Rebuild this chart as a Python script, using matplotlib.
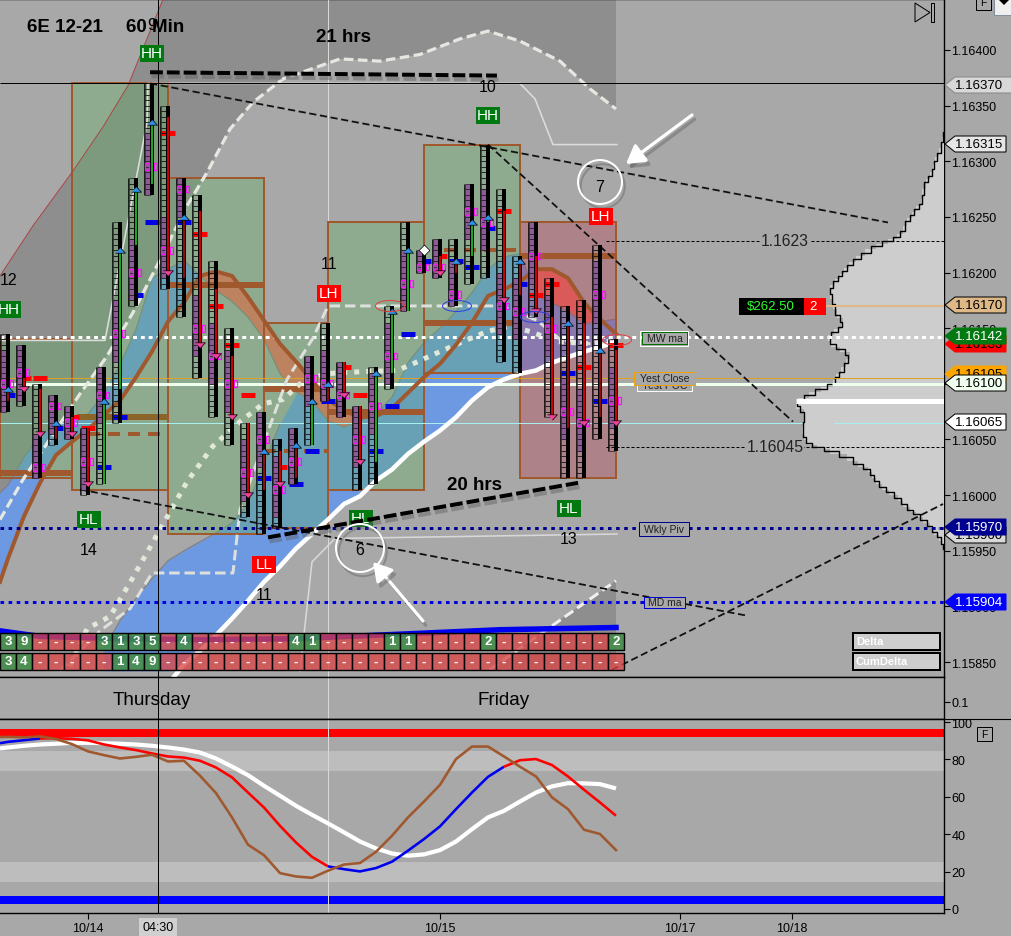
import numpy as np
import matplotlib
matplotlib.use('Agg')
import matplotlib.pyplot as plt
from matplotlib.patches import Rectangle, Polygon, Ellipse, Circle
from matplotlib.collections import PatchCollection
import matplotlib.patheffects as pe

plt.rcParams['font.family'] = ['Liberation Sans', 'DejaVu Sans']

# ---------- DATA (prices in 1e-5 units, x in bar index) ----------
highs = [116145,116135,116100,116090,116080,116060,116115,116245,116285,116370,116350,116285,116270,116210,116150,116065,116075,116050,116060,116125,116155,116120,116080,116115,116170,116245,116220,116230,116230,116280,116315,116275,116215,116245,116195,116170,116175,116225,116140]
lows = [116075,116080,116015,116045,116050,116000,116010,116065,116170,116270,116185,116160,116105,116070,116045,115980,115965,115970,116010,116045,116085,116070,116005,116010,116095,116165,116200,116195,116170,116190,116195,116120,116110,116160,116070,116015,116015,116050,116040]
opens = [116085,116105,116095,116050,116070,116060,116010,116095,116225,116280,116340,116195,116255,116185,116125,116065,116005,116040,116015,116045,116085,116120,116080,116030,116110,116165,116220,116215,116200,116215,116245,116255,116180,116215,116160,116060,116155,116070,116130]
closes = [116095,116095,116055,116065,116055,116010,116085,116220,116275,116335,116200,116250,116135,116125,116070,116000,116040,116010,116045,116085,116100,116090,116030,116110,116165,116220,116220,116200,116210,116245,116250,116175,116210,116165,116070,116155,116065,116130,116065]
green_bodies = [6,7,8,9,19,23,24,25,29,30]
poc_price = [116090,116105,116105,116060,116070,116060,116025,116070,116180,116245,116325,116245,116235,116170,116135,116090,116015,116025,116010,116040,116085,116115,116090,116040,116080,116145,116210,116215,116210,116205,116240,116255,116190,116180,116190,116110,116115,116085,116135]
poc_blue = [0,3,6,7,8,9,11,16,18,19,20,23,24,25,26,28,29,30,32,35,37]
mag_price = [116100,116110,116025,116080,116065,116030,116090,116145,116200,116295,116220,116275,116150,116125,116100,116020,116050,116005,116030,116105,116100,116090,116050,116080,116125,116190,116205,116205,116180,116255,116245,116170,116165,116215,116150,116075,116065,116180,116085]
delta_row = ['3','9','-','-','-','-','3','1','3','5','-','4','-','-','-','-','-','-','4','1','-','-','-','-','1','1','-','-','-','-','2','-','-','-','-','-','-','-','2']
cum_row = ['3','4','-','-','-','-','-','1','4','9']+['-']*29

box_x0 = [-0.5,4,10,16,20,26,32]
box_x1 = [4,10,16,20,26,32,38]
box_top = [116140,116370,116285,116155,116245,116315,116245]
box_bot = [116015,116005,115965,115970,116005,116110,116015]

curve_x = [-0.5]+list(range(39))
brown_ma = [115922,115943,115981,116011,116036,116048,116059,116072,116085,116106,116129,116156,116173,116197,116201,116197,116178,116157,116136,116120,116103,116086,116076,116070,116071,116078,116092,116106,116118,116135,116155,116179,116185,116192,116203,116203,116195,116173,116158,116145]
cloud_top = [116002,116009,116034,116053,116064,116068,116073,116091,116117,116149,116195,116203,116211,116197,116184,116174,116160,116140,116109,116093,116084,116067,116061,116067,116073,116088,116119,116137,116150,116165,116182,116203,116214,116217,116179,116173,116165,116154,116156,116158]
ribbon_top = [115862,115887,115907,115925,115941,115950,115958,115966,115975,115992,116028,116064,116091,116100,116085,116076,116070,116073,116088,116119,116137,116150,116165,116182,116203,116214,116217,116179,116173,116165,116154,116156,116158]
slow_ma = [115763,115776,115794,115812,115830,115848,115860,115874,115889,115905,115922,115936,115952,115965,115978,115992,115999,116013,116023,116037,116048,116058,116070,116085,116097,116104,116109,116112,116119,116124,116129,116133,116138]

red_x = [-0.5,1.56,4,5.94,7.5,9.7]
red_y = [116197,116242,116290,116331,116368,116446]
dash_x = [-0.5,0.94,4.5,6.19,7.81,9.31,11.19,12.44,13.88,15.31,17.19,20.75,23.25,25.75,28.25,30,32,34.5,36.38,38]
dash_y = [115978,116014,116091,116125,116164,116206,116260,116290,116329,116353,116374,116392,116390,116396,116410,116417,116408,116390,116365,116347]
low_dash_x = [3.25,5.75,7.63,9,14.06,14.5,16.06,17.44,19.06,20,30.56,31.38,33.06,34.5,36.38,38.06]
low_dash_y = [115842,115878,115898,115930,115930,115987,116050,116104,116141,116170,116170,116167,116157,116140,116136,116136]
dots_x = [3.88,4.94,6.38,7.81,9.5,11.19,12.81,14.5,15.94,17.19,18.25,19.81,22.19,24.31,25.31,26.38,28.44,29.94,31.38,32.63,34.31,36.38,38.06]
dots_y = [115846,115880,115891,115926,115969,116012,116044,116066,116082,116086,116100,116109,116111,116112,116118,116125,116138,116147,116152,116147,116138,116136,116139]
stair_top_x = [-0.5,6.06,8.69,8.75,32,32.94,34.06,38.06]
stair_top_y = [116139,116139,116335,116370,116370,116356,116315,116315]
stair_bot_x = [18.25,19,20.44,38.06]
stair_bot_y = [115842,115940,115961,115965]
wedge_x = [30.1,38,38]
wedge_y = [115844,115923,115844]
wedge_dash_x = [30.1,38]
wedge_dash_y = [115843,115923]
blue_line_x = [-0.5,2,7,12,18,24.5,30.75,38]
blue_line_y = [115878,115873,115871,115870,115871,115875,115879,115881]

thin_trends = [(8.88,116370,55,116245),(30,116315,49.06,116066),(4.5,116005,46.06,115892),(37.75,115843,58.44,115992)]
thick_trends = [(8.88,116380,30.56,116377),(16.25,115962,35.63,116011)]

profile_price = [116326,116317,116307,116300,116293,116287,116281,116270,116262,116257,116252,116246,116237,116232,116228,116224,116218,116212,116207,116201,116197,116192,116186,116181,116172,116162,116156,116151,116147,116141,116136,116131,116126,116119,116111,116106,116100,116095,116090,116085,116080,116075,116066,116058,116052,116047,116043,116040,116034,116028,116023,116018,116013,116007,116003,115997,115992,115987,115983,115978,115972,115967,115962,115956,115952]
profile_vol = [0,2,5,9,11,14,18,22,23,28,32,37,41,47,56,68,79,88,95,100,104,109,114,114,111,107,101,103,110,116,113,104,94,98,103,108,111,123,135,146,148,140,140,142,140,137,127,114,97,86,76,72,68,62,55,46,41,34,28,21,14,10,5,2,0]

stoch_k = [92.0,92.1,91.8,92.3,90.9,88.2,84.3,82.3,80.5,81.4,82.5,78.9,79.3,71.3,62,49,34.4,28.8,19.2,17.4,16.7,20.5,23.8,24.6,30.6,39.2,49,57.5,66.4,80.2,86.9,86.9,81.6,76.1,70.9,59.7,53.4,42.4,40.1,31.5]
stoch_d = [88.7,89.4,90.3,91.2,91.4,91,90.2,88,86.4,85,83.2,81.6,81,79.3,75.7,70.4,62.3,54.3,44.5,35.6,27.9,22.8,21.3,20.1,21.9,25.3,31.2,37.4,44.2,53.4,62.3,70.7,76.1,79.6,80.2,77,70.9,63.8,57,49.9]
stoch_slow = [85.9,86.4,87.3,88,88.4,88.9,88.9,88.7,88.4,88,87.3,86.4,85.3,83.7,80.5,76.2,71.6,65.9,60.6,55.2,50.4,45.8,41,36.1,32.4,29.7,28.5,29.2,31.5,36.1,42.7,49,52.5,57.5,62.3,65.6,67.3,67.2,66.8,64.5]

date_ticks = [5,27,42,49]
date_labels = ['10/14','10/15','10/17','10/18']
price_ticks = [1.1585,1.1590,1.1595,1.1600,1.1605,1.1610,1.1615,1.1620,1.1625,1.1630,1.1635,1.1640]
stoch_ticks = [0,20,40,60,80,100]

# ---------- helpers ----------
W, H = 1012, 937
BG = '#a8a8a8'
BROWN = '#a0582f'
px = 0.72   # points per pixel at dpi 100
fig = plt.figure(figsize=(W/100, H/100), dpi=100, facecolor=BG)
def axes_at(top, bot, right=944):
    return fig.add_axes([0, 1-bot/H, right/W, (bot-top)/H], facecolor=BG)

ax = axes_at(0, 677.5)
mid = axes_at(677.5, 719.5)
low = axes_at(719.5, 914)
XL = (-0.5, 58.5)
for a in (ax, mid, low):
    a.set_xlim(*XL)
    a.spines['left'].set_visible(False)
    for s in ('top','bottom','right'):
        a.spines[s].set_linewidth(1)
    a.yaxis.tick_right()
    a.tick_params(axis='y', length=6*px, width=0.8, labelsize=9, pad=1)
    a.set_xticks([])
ax.set_ylim(1.164-626.5/111273*1, 1.164+51/111273)
s5 = lambda v: np.asarray(v, dtype=float)/1e5
bars = np.arange(39)
cx_arr = np.asarray(curve_x, dtype=float)

# overlay in pixels, created early so its transform can be used for marks under the trend lines
ov = fig.add_axes([0,0,1,1], facecolor='none', zorder=20)
ov.set_xlim(0, W); ov.set_ylim(H, 0); ov.axis('off')

# ---------- main panel ----------
ax.set_yticks(price_ticks)
ax.set_yticklabels([f'{t:.5f}' for t in price_ticks])

# dark band
tx = list(red_x) + [38]
ty = list(s5(red_y)) + [1.16446]
ax.fill(tx + dash_x[::-1], ty + list(s5(dash_y))[::-1], color='#8e8e8e', lw=0, zorder=1)
ax.fill(wedge_x, s5(wedge_y), color='#8e8e8e', lw=0, zorder=1)

# cloud fills
floor = np.maximum(s5(slow_ma), 1.15842)
ax.fill_between(bars[6:], s5(ribbon_top), floor, color='#6d99e2', lw=0, zorder=2)
ct, bm = s5(cloud_top), s5(brown_ma)
ax.fill_between(cx_arr, ct, bm, where=ct >= bm, interpolate=True, color='#6d99e2', lw=0, zorder=2)
ax.fill_between(cx_arr, ct, bm, where=bm >= ct, interpolate=True, color='#ee6a5e', lw=0, zorder=2)
ax.plot(cx_arr, ct, color='#7c8088', lw=0.9, zorder=3)
ax.plot(bars[6:18], s5(ribbon_top)[:12], color='#7c8088', lw=0.9, zorder=3)

# boxes
for k in range(len(box_x0)):
    is_red = k == 6
    ax.add_patch(Rectangle((box_x0[k], box_top[k]/1e5), box_x1[k]-box_x0[k], (box_bot[k]-box_top[k])/1e5,
                           facecolor=(0.72,0.25,0.32,0.36) if is_red else (0.38,0.70,0.38,0.34),
                           edgecolor='none', zorder=4))
    ax.add_patch(Rectangle((box_x0[k], box_top[k]/1e5), box_x1[k]-box_x0[k], (box_bot[k]-box_top[k])/1e5,
                           facecolor='none', edgecolor=BROWN, lw=2*px, zorder=5))

# box level lines
ax.hlines(s5([116020,116095,116155,116215,116189,116075]), [-0.5,16,26,32,10,20], [4,20,32,38,16,26],
          color=BROWN, lw=6*px, zorder=5)
ax.hlines(1.16070, 4.3, 10, color='#8a6428', lw=6*px, zorder=5)
ax.hlines(s5([116055,116040,116220]), [5,16,27.25], [10,20,32], color=BROWN, lw=4*px,
          linestyles=[(0,(3,2))], zorder=5)

# price levels
def hl(p, c, w, ls='-', x0=XL[0], x1=XL[1], z=6):
    ax.hlines(p, x0, x1, color=c, lw=w*px, linestyles=[ls], zorder=z)
hl(1.16105, '#e0a020', 1)
hl(1.16100, '#eeffee', 3)
hl(1.16065, '#a8f0f0', 1)
hl(1.16142, 'white', 3, (0,(1.3,1.3)))
hl(1.15970, '#000090', 3, (0,(1.2,1.5)), z=7)
hl(1.15904, '#0000e0', 3, (0,(1.2,1.5)), z=7)

# stair lines and curves
ax.plot(stair_top_x, s5(stair_top_y), color='#dcdcdc', lw=1.6*px, zorder=6)
ax.plot(stair_bot_x, s5(stair_bot_y), color='#d8d8d8', lw=1.6*px, zorder=6)
ax.plot(red_x, s5(red_y), color='#a84848', lw=1*px, zorder=6)
ax.plot(dash_x, s5(dash_y), color='#e4e8e0', lw=3.2*px, ls=(0,(3,1.4)), zorder=6)
ax.plot(low_dash_x, s5(low_dash_y), color='#dde0dc', lw=3*px, ls=(0,(3.5,1.6)), zorder=6)
ax.plot(wedge_dash_x, s5(wedge_dash_y), color='#f0f0f0', lw=3*px, ls=(0,(3.5,1.6)), zorder=6)
ax.plot(dots_x, s5(dots_y), color='#e0e8d8', lw=5*px, ls=(0,(1,1.4)), zorder=6)
ax.plot(bars[6:], s5(slow_ma), color='white', lw=4.5*px, zorder=6, solid_capstyle='butt')
ax.plot(cx_arr, bm, color=BROWN, lw=4*px, zorder=6, solid_joinstyle='round')
ax.plot(blue_line_x, s5(blue_line_y), color='#0000f0', lw=5.5*px, zorder=6)

# volume profile
vol_x = XL[1] - np.asarray(profile_vol)/16
ax.fill_betweenx(s5(profile_price), vol_x, XL[1], step='mid', color='#cdcdcd', lw=0, zorder=6.2)
ax.step(vol_x, s5(profile_price), where='mid', color='black', lw=1.4*px, zorder=6.3)
ax.hlines(1.16085, XL[1]-148/16, XL[1], color='white', lw=5*px, zorder=6.4)
ax.hlines([1.16105,1.16065], XL[1]-110/16, XL[1], color=['#e0a020','#a8f0f0'], lw=1*px, zorder=6.5)
ax.hlines(1.16100, XL[1]-112/16, XL[1], color='#eeffee', lw=3*px, zorder=6.5)
ax.hlines(1.16142, XL[1]-116/16, XL[1], color='white', lw=3*px, linestyles=[(0,(1.3,1.3))], zorder=6.5)
ax.hlines(1.16170, 51.1, XL[1], color='#e0b888', lw=2*px, zorder=6.5)
ax.hlines(1.15970, XL[1]-14/16, XL[1], color='#7070b0', lw=3*px, linestyles=[(0,(1.2,1.5))], zorder=6.5)

# trend lines
for x0,y0,x1,y1 in thin_trends:
    ax.plot([x0,x1],[y0/1e5,y1/1e5], color='#111111', lw=1.8*px, ls=(0,(4,2)), zorder=8)
for x0,y0,x1,y1 in thick_trends:
    ax.plot([x0,x1],[y0/1e5,y1/1e5], color='black', lw=4*px, ls=(0,(3.2,1)), zorder=8,
            path_effects=[pe.SimpleLineShadow(offset=(1,-3), shadow_color='#606060', alpha=0.45), pe.Normal()])
for lvl, x0 in ((1.16228,37.4),(1.16043,37.4)):
    ax.hlines(lvl, x0, XL[1], color='black', lw=1*px, linestyles=[(0,(3,2))], zorder=8)

# candles
for i in range(39):
    ax.hlines(poc_price[i]/1e5, i-0.45, i+0.45, color='#0000e0' if i in poc_blue else '#ff0000', lw=5*px, zorder=9)
rects, fcs = [], []
for i in range(39):
    lo = round(lows[i]/5)*5; hi = round(highs[i]/5)*5
    for p in range(lo, hi, 5):
        rects.append(Rectangle((i-0.43, p/1e5), 0.29, 5e-5))
        fcs.append('#8d5c96' if abs(p-mag_price[i]) <= 25 else 'none')
ax.add_collection(PatchCollection(rects, facecolors=fcs, edgecolors='#141414', linewidths=0.45, zorder=10))
ax.vlines(bars-0.49, s5(lows), s5(highs), color='black', lw=0.8*px, zorder=10)
ax.vlines(bars, s5(lows), s5(highs), color='black', lw=4*px, zorder=11)
for i in range(39):
    if opens[i] == closes[i]:
        continue
    up = closes[i] > opens[i]
    c = '#22d022' if i in green_bodies else ('#b01010' if up else '#ff0000')
    ax.vlines(i, opens[i]/1e5, closes[i]/1e5, color=c, lw=1.6*px, zorder=12)
mag_rects = []
for i in range(39):
    for x0, w in ((i-0.44, 0.25), (i+0.13, 0.2)):
        mag_rects.append(Rectangle((x0, (mag_price[i]-3)/1e5), w, 6e-5))
ax.add_collection(PatchCollection(mag_rects, facecolors='none', edgecolors='#ff10ff', linewidths=0.9, zorder=12))
upi = [i for i in range(39) if closes[i] > opens[i]]
dni = [i for i in range(39) if closes[i] < opens[i]]
tri_up = [(-1,-0.55),(1,-0.55),(0,0.55)]
tri_dn = [(-1,0.55),(1,0.55),(0,-0.55)]
ax.scatter(bars[upi], s5(closes)[upi], marker=tri_up, s=50, c='#2f90e8', edgecolors='black', linewidths=0.5, zorder=13)
ax.scatter(bars[dni], s5(closes)[dni], marker=tri_dn, s=50, c='#f0409a', edgecolors='black', linewidths=0.5, zorder=13)
ax.scatter([26], [closes[26]/1e5], marker='D', s=30, c='white', edgecolors='black', linewidths=0.5, zorder=13)

# delta cells
for r, row, (pt, pb) in ((0, delta_row, (115876,115861)), (1, cum_row, (115858,115843))):
    for i, v in enumerate(row):
        fc = (0.27,0.55,0.29,0.9) if v != '-' else (0.86,0.28,0.28,0.78)
        ax.add_patch(Rectangle((i-0.47, pb/1e5), 0.94, (pt-pb)/1e5, facecolor=fc, edgecolor='black', lw=1.4*px, zorder=14))
        ax.text(i, (pt+pb)/2e5, v, color='white', fontsize=9.5, fontweight='bold', ha='center', va='center', zorder=15)

# crosshair and separators
for a in (ax, mid, low):
    a.axvline(20, color='#d8d8d8', lw=1*px, zorder=3 if a is ax else 2)
    a.axvline(9.375, color='black', lw=1*px, zorder=9)
ax.hlines(1.16370, *XL, color='black', lw=1*px, zorder=9)

# ---------- middle panel ----------
mid.set_ylim(0, 0.2545)
mid.set_yticks([0.1]); mid.set_yticklabels(['0.1'])

# ---------- lower panel ----------
low.set_ylim(-2.14, 101.9)
low.set_yticks(stoch_ticks); low.set_yticklabels([str(t) for t in stoch_ticks])
low.axhspan(74, 84.5, color='#bdbdbd', lw=0, zorder=1)
low.axhspan(14.6, 25, color='#bdbdbd', lw=0, zorder=1)
low.axhspan(92, 96.3, color='#ff0000', lw=0, zorder=1)
low.axhspan(2.7, 7, color='#0000ff', lw=0, zorder=1)
low.plot(cx_arr, stoch_slow, color='white', lw=4.2*px, zorder=4, solid_capstyle='butt')
d = np.asarray(stoch_d)
for a0, a1, c in ((0,3,'#0000f0'),(3,21,'#ff0000'),(21,32,'#0000f0'),(32,39,'#ff0000')):
    low.plot(cx_arr[a0:a1+1], d[a0:a1+1], color=c, lw=2.6*px, zorder=5, solid_capstyle='butt')
low.plot(cx_arr, stoch_k, color=BROWN, lw=2.6*px, zorder=6)
low.set_xticks(date_ticks); low.set_xticklabels(date_labels, fontsize=9)
low.tick_params(axis='x', length=6*px, width=0.8, pad=2)

# ---------- overlay chrome in pixels ----------
ov.plot([0,W],[719.5,719.5], color='black', lw=0.8)
ov.text(152, 701, 'Thursday', fontsize=13.6, ha='center', va='center')
ov.text(504, 701, 'Friday', fontsize=13.6, ha='center', va='center')
ov.text(158, 928, '04:30', fontsize=9, ha='center', va='center',
        bbox=dict(fc='#d0d0d0', ec='none', pad=2.2))

ov.text(27, 28, '6E 12-21', fontsize=13.5, fontweight='bold', va='center')
ov.text(126, 28, '60 Min', fontsize=13.5, fontweight='bold', va='center')
ov.text(152, 25, '9', fontsize=12, ha='center', va='center')
ov.text(344, 37, '21 hrs', fontsize=13.5, fontweight='bold', ha='center', va='center')
ov.text(475, 486, '20 hrs', fontsize=13.5, fontweight='bold', ha='center', va='center')
for tx_, ty_, s_ in ((488,87,'10'),(9,281,'12'),(329,265,'11'),(89,551,'14'),(264,596,'11'),(360,551,'6'),(600,187,'7'),(569,540,'13')):
    ov.text(tx_, ty_, s_, fontsize=11.5, ha='center', va='center')

def flag(cx, cy, s, c, under=False):
    w = 24
    if under:   # sits beneath the thick trend line, inside the main axes
        ax.add_patch(Rectangle((cx-w/2, cy-8.5), w, 17, fc=c, ec='none', zorder=7.5, transform=ov.transData))
        ax.text(cx, cy, s, color='white', fontsize=11, ha='center', va='center', zorder=7.6, transform=ov.transData)
        return
    ov.add_patch(Rectangle((cx-w/2, cy-8.5), w, 17, fc=c, ec='none', zorder=3))
    ov.text(cx, cy, s, color='white', fontsize=11, ha='center', va='center', zorder=4)
for f in ((152,54,'HH','#007a10'),(488,116,'HH','#007a10'),(9,310,'HH','#007a10'),(89,520,'HL','#007a10'),
          (569,509,'HL','#007a10'),(329,294,'LH','#ff0000'),(601,217,'LH','#ff0000'),(264,565,'LL','#ff0000')):
    flag(*f)
flag(361,519,'HL','#007a10',under=True)

# circles and arrows
shadow = [pe.SimpleLineShadow(offset=(2,-3), shadow_color='#505050', alpha=0.35), pe.Normal()]
for c in (Circle((600,183), 22), Circle((360,549), 24)):
    c.set(fc='none', ec='white', lw=2*px, path_effects=shadow)
    ov.add_patch(c)
for (x0,y0),(x1,y1) in (((692,116),(626,165)),((423,622),(373,563))):
    ov.annotate('', xy=(x1,y1), xytext=(x0,y0), zorder=6,
                arrowprops=dict(arrowstyle='-|>,head_length=1.1,head_width=0.65', color='white', lw=3.2*px,
                                shrinkA=0, shrinkB=0, path_effects=shadow))
for cx, cy, c in ((390,307,'#e04040'),(457,307,'#3040e0'),(535,318,'#3040e0'),(617,341,'#e04040')):
    ov.add_patch(Ellipse((cx,cy), 29, 11, fc='none', ec=c, lw=1*px))

# chart labels
def labelbox(x0,y0,x1,y1,s,ec,outer=None,z=6):
    if outer:
        ov.add_patch(Rectangle((x0-1.5,y0-1.5),x1-x0+3,y1-y0+3,fc='none',ec=outer,lw=1*px,zorder=z))
    ov.add_patch(Rectangle((x0,y0),x1-x0,y1-y0,fc=BG,ec=ec,lw=1*px,zorder=z))
    ov.text((x0+x1)/2,(y0+y1)/2,s,fontsize=7.5,ha='center',va='center',color='#202020',zorder=z+1)
labelbox(642,333,687,345,'MW ma','#007000','white')
labelbox(637,380,692,392,'Yest POC','white',z=6)
labelbox(634,373,695,386,'Yest Close','#f0a000',z=8)
labelbox(639,523,689,537,'Wkly Piv','#000090')
labelbox(644,598,685,609,'MD ma','#0000d0')
for lx, ly, s_ in ((785,242,'1.1623'),(775,448,'1.16045')):
    ov.text(lx, ly, s_, fontsize=11.3, color='#222222', ha='center', va='center',
            bbox=dict(fc='#a8a8a8', ec='none', pad=0.5))

# P&L
ov.add_patch(Rectangle((739,299),65,17,fc='black',ec='none'))
ov.add_patch(Rectangle((804,299),22,17,fc='#ff0000',ec='none'))
ov.text(771,307.5,'$262.50',color='#30ff30',fontsize=9.5,ha='center',va='center')
ov.text(813,307.5,'2',color='white',fontsize=9.5,ha='center',va='center')

# price tags
def tag(cy, s, fc, tc='black', ec='black', x1=1006, z=6):
    ov.add_patch(Polygon([(945,cy),(955,cy-8),(x1,cy-8),(x1,cy+8),(955,cy+8)], closed=True, fc=fc, ec=ec, lw=1*px, zorder=z))
    ov.text(979, cy, s, color=tc, fontsize=9.5, ha='center', va='center', zorder=z+0.5)
tag(86,'1.16370','#d8d8d8',ec='#888888',x1=1013)
tag(145,'1.16315','#e6e6e6')
tag(306,'1.16170','#deb887')
tag(345,'1.16133','#ff0000',ec='#ff0000')
tag(337,'1.16142','#007a10','white',ec='#007a10',z=7)
tag(375,'1.16105','#ffa500',ec='#ffa500')
tag(384,'1.16100','#f0fff0',z=7)
tag(423,'1.16065','white')
tag(536,'1.15960','#d8d8d8')
tag(528,'1.15970','#000090','white',ec='#000090',z=7)
tag(603,'1.15904','#0000ff','white',ec='#0000ff',z=7)

# delta legend and window controls
for y0, s_ in ((634,'Delta'),(654,'CumDelta')):
    ov.add_patch(Rectangle((853.5,y0),87,17,fc='#cdcdcd',ec='black',lw=2*px))
    ov.text(856,y0+8.5,s_,color='white',fontsize=8,fontweight='bold',va='center')
ov.add_patch(Polygon([(915,4),(930,13.5),(915,23)],closed=True,fc='none',ec='black',lw=1*px))
ov.add_patch(Rectangle((931,4),3.5,19,fc='none',ec='black',lw=1*px))
for bx, by in ((976,-2),(977,728)):
    ov.add_patch(Rectangle((bx,by),15,13 if by<0 else 14,fc='none',ec='black',lw=1*px))
    ov.text(bx+7.5,(by+5) if by<0 else by+7,'F',fontsize=7.5,ha='center',va='center')
ov.add_patch(Rectangle((994,-2),20,18,fc='#efefef',ec='#8090a0',lw=1*px))
ov.add_patch(Polygon([(999,1),(1009,1),(1004,6)],closed=True,fc='black',ec='none'))

fig.savefig('out.png', dpi=100, facecolor=BG)
